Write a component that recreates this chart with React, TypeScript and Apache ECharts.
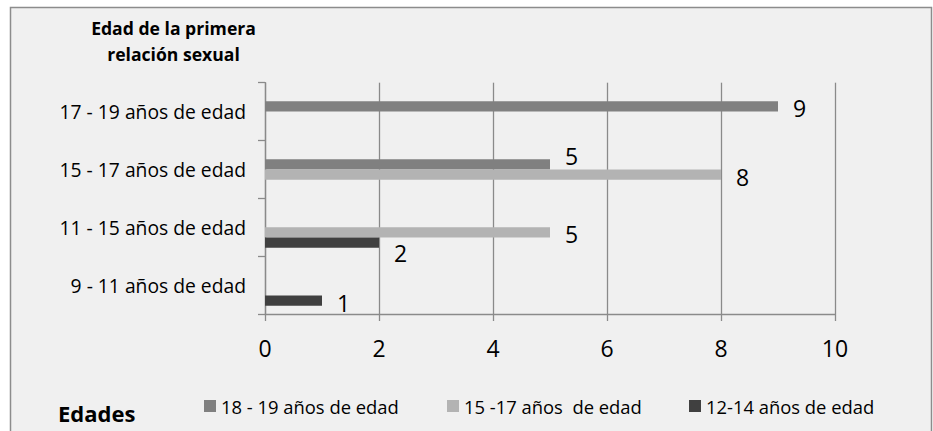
import React, { useEffect, useRef } from "react";
import * as echarts from "echarts";

const categories = [
  "9 - 11 años de edad",
  "11 - 15 años de edad",
  "15 - 17 años de edad",
  "17 - 19 años de edad",
];
const seriesNames = ["18 - 19 años de edad", "15 -17 años  de edad", "12-14 años de edad"];
const values1819: (number | null)[] = [null, null, 5, 9];
const values1517: (number | null)[] = [null, 5, 8, null];
const values1214: (number | null)[] = [1, 2, null, null];
const xMin = 0;
const xMax = 10;
const xInterval = 2;
const titleLines = ["Edad de la primera", "relación sexual"];
const axisTitle = "Edades";

const FONT = "'Open Sans', sans-serif";
const colors = ["#808080", "#b3b3b3", "#404040"];
// vertical nudges of value labels (px), per series, per category index
const labelNudges: Record<number, number>[] = [
  { 2: -8, 3: 1.5 },
  { 1: 1.5, 2: 2.5 },
  { 0: 2, 1: 10 },
];

export default function App() {
  const ref = useRef<HTMLDivElement>(null);
  useEffect(() => {
    document.body.style.margin = "0";
    const chart = echarts.init(ref.current!, null, { renderer: "svg" });
    const allValues = [values1819, values1517, values1214];
    const barW = 10.3;
    const realSeries = allValues.map((vals, si) => ({
      type: "bar",
      name: seriesNames[si],
      barWidth: barW,
      barGap: "0%",
      itemStyle: { color: colors[si] },
      label: {
        show: true,
        position: "right",
        distance: 15,
        fontSize: 23,
        fontFamily: FONT,
        color: "#000",
      },
      data: vals.map((v, i) =>
        v == null ? null : { value: v, label: { offset: [0, labelNudges[si][i] || 0] } }
      ),
    }));
    const option: any = {
      animation: false,
      grid: { left: 265, right: 98, top: 82.7, bottom: 117, containLabel: false },
      xAxis: {
        type: "value",
        min: xMin,
        max: xMax,
        interval: xInterval,
        axisLine: { show: true, lineStyle: { color: "#8a8a8a", width: 1.3 } },
        axisTick: { show: true, length: 7, lineStyle: { color: "#8a8a8a", width: 1.3 } },
        splitLine: { show: true, lineStyle: { color: "#8a8a8a", width: 1.3 } },
        axisLabel: { fontSize: 23, fontFamily: FONT, color: "#000", margin: 22 },
      },
      yAxis: {
        type: "category",
        data: categories,
        axisLine: { show: true, lineStyle: { color: "#8a8a8a", width: 1.3 } },
        axisTick: { show: true, length: 7, lineStyle: { color: "#8a8a8a", width: 1.3 } },
        axisLabel: { fontSize: 19.3, fontFamily: FONT, color: "#000", margin: 19 },
      },
      legend: seriesNames.map((n, i) => ({
        data: [n],
        left: [204, 447, 689][i],
        top: 397,
        padding: 0,
        itemWidth: 12,
        itemHeight: 12,
        icon: "rect",
        itemStyle: { borderWidth: 0 },
        textStyle: { fontSize: 18.4, fontFamily: FONT, color: "#000" },
      })),
      graphic: [
        {
          type: "rect",
          z: -100,
          silent: true,
          shape: { x: 10.5, y: 7.5, width: 921, height: 440 },
          style: { fill: "#f0f0f0", stroke: "#8c8c8c", lineWidth: 1.5 },
        },
        {
          type: "text",
          x: 173.5,
          y: 27.5,
          style: {
            text: titleLines[0],
            fontSize: 17.6,
            fontWeight: "bold",
            fontFamily: FONT,
            fill: "#000",
            align: "center",
            verticalAlign: "middle",
          },
        },
        {
          type: "text",
          x: 173.5,
          y: 54,
          style: {
            text: titleLines[1],
            fontSize: 17.6,
            fontWeight: "bold",
            fontFamily: FONT,
            fill: "#000",
            align: "center",
            verticalAlign: "middle",
          },
        },
        {
          type: "text",
          x: 58,
          y: 412.5,
          style: {
            text: axisTitle,
            fontSize: 22,
            fontWeight: "bold",
            fontFamily: FONT,
            fill: "#000",
            align: "left",
            verticalAlign: "middle",
          },
        },
      ],
      series: [
        {
          type: "bar",
          name: "pad",
          barWidth: barW,
          barGap: "0%",
          data: categories.map(() => null),
        },
        ...realSeries,
      ],
    };
    chart.setOption(option);
    return () => chart.dispose();
  }, []);
  return (
    <div
      ref={ref}
      style={{ position: "absolute", left: 0, top: 0, width: 933, height: 431 }}
    />
  );
}
